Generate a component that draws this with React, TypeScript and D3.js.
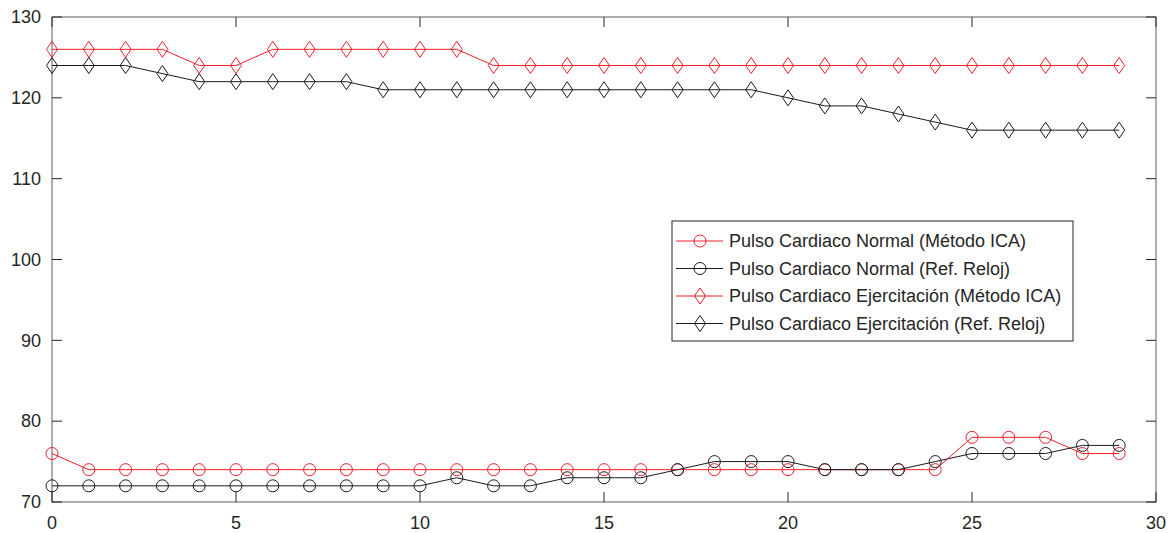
import React, { useEffect, useRef } from 'react'
import * as d3 from 'd3'

const xs = d3.range(0, 30)

const normalIca = [76, 74, 74, 74, 74, 74, 74, 74, 74, 74, 74, 74, 74, 74, 74, 74, 74, 74, 74, 74, 74, 74, 74, 74, 74, 78, 78, 78, 76, 76]
const normalReloj = [72, 72, 72, 72, 72, 72, 72, 72, 72, 72, 72, 73, 72, 72, 73, 73, 73, 74, 75, 75, 75, 74, 74, 74, 75, 76, 76, 76, 77, 77]
const ejercIca = [126, 126, 126, 126, 124, 124, 126, 126, 126, 126, 126, 126, 124, 124, 124, 124, 124, 124, 124, 124, 124, 124, 124, 124, 124, 124, 124, 124, 124, 124]
const ejercReloj = [124, 124, 124, 123, 122, 122, 122, 122, 122, 121, 121, 121, 121, 121, 121, 121, 121, 121, 121, 121, 120, 119, 119, 118, 117, 116, 116, 116, 116, 116]

const xTicks = [0, 5, 10, 15, 20, 25, 30]
const yTicks = [70, 80, 90, 100, 110, 120, 130]

const seriesNames = [
  'Pulso Cardiaco Normal (Método ICA)',
  'Pulso Cardiaco Normal (Ref. Reloj)',
  'Pulso Cardiaco Ejercitación (Método ICA)',
  'Pulso Cardiaco Ejercitación (Ref. Reloj)',
]

const RED = '#f0202a'
const BLACK = '#1a1a1a'
const AXIS = '#262626'
const FONT = 'Liberation Sans, Arial, sans-serif'

function drawMarker(g, kind, color, cx, cy) {
  if (kind === 'circle') {
    g.append('circle')
      .attr('cx', cx).attr('cy', cy).attr('r', 6)
      .attr('fill', 'none').attr('stroke', color).attr('stroke-width', 1)
  } else {
    g.append('path')
      .attr('d', `M${cx},${cy - 8}L${cx + 5.5},${cy}L${cx},${cy + 8}L${cx - 5.5},${cy}Z`)
      .attr('fill', 'none').attr('stroke', color).attr('stroke-width', 1)
  }
}

export default function App() {
  const ref = useRef(null)

  useEffect(() => {
    const svg = d3.select(ref.current)
    svg.selectAll('*').remove()

    const margin = { top: 17, right: 16, bottom: 31, left: 52 }
    const width = 1172 - margin.left - margin.right
    const height = 533 - margin.top - margin.bottom

    const x = d3.scaleLinear().domain([0, 30]).range([0, width])
    const y = d3.scaleLinear().domain([70, 130]).range([height, 0])

    const g = svg.append('g').attr('transform', `translate(${margin.left},${margin.top})`)

    // box with inward ticks on every side
    g.append('rect')
      .attr('width', width).attr('height', height)
      .attr('fill', 'none').attr('stroke', AXIS).attr('stroke-width', 1).attr('opacity', 0.75)

    const tickLen = 10
    xTicks.forEach(t => {
      g.append('line').attr('x1', x(t)).attr('x2', x(t)).attr('y1', height).attr('y2', height - tickLen)
        .attr('stroke', AXIS)
      g.append('line').attr('x1', x(t)).attr('x2', x(t)).attr('y1', 0).attr('y2', tickLen)
        .attr('stroke', AXIS)
      g.append('text')
        .attr('x', x(t)).attr('y', height + 27)
        .attr('text-anchor', 'middle')
        .attr('fill', AXIS)
        .style('font-family', FONT)
        .style('font-size', '18px')
        .text(t)
    })
    yTicks.forEach(t => {
      g.append('line').attr('x1', 0).attr('x2', tickLen).attr('y1', y(t)).attr('y2', y(t))
        .attr('stroke', AXIS)
      g.append('line').attr('x1', width).attr('x2', width - tickLen).attr('y1', y(t)).attr('y2', y(t))
        .attr('stroke', AXIS)
      g.append('text')
        .attr('x', -11).attr('y', y(t)).attr('dy', '0.35em')
        .attr('text-anchor', 'end')
        .attr('fill', AXIS)
        .style('font-family', FONT)
        .style('font-size', '18px')
        .text(t)
    })

    const series = [
      { values: normalIca, color: RED, kind: 'circle' },
      { values: normalReloj, color: BLACK, kind: 'circle' },
      { values: ejercIca, color: RED, kind: 'diamond' },
      { values: ejercReloj, color: BLACK, kind: 'diamond' },
    ]

    const line = d3.line().x(d => x(d[0])).y(d => y(d[1]))

    series.forEach(s => {
      const pts = xs.map((xv, i) => [xv, s.values[i]])
      g.append('path')
        .attr('d', line(pts))
        .attr('fill', 'none')
        .attr('stroke', s.color)
        .attr('stroke-width', 1)
      const mg = g.append('g')
      pts.forEach(p => drawMarker(mg, s.kind, s.color, x(p[0]), y(p[1])))
    })

    // legend
    const lg = svg.append('g').attr('transform', 'translate(672,221)')
    lg.append('rect')
      .attr('width', 401).attr('height', 120)
      .attr('fill', '#fff').attr('stroke', AXIS).attr('stroke-width', 1)
    series.forEach((s, i) => {
      const cy = 20 + i * 27.5
      lg.append('line').attr('x1', 4).attr('x2', 51).attr('y1', cy).attr('y2', cy)
        .attr('stroke', s.color).attr('stroke-width', 1)
      drawMarker(lg, s.kind, s.color, 28, cy)
      lg.append('text')
        .attr('x', 57).attr('y', cy).attr('dy', '0.35em')
        .attr('fill', AXIS)
        .style('font-family', FONT)
        .style('font-size', '18px')
        .text(seriesNames[i])
    })
  }, [])

  return (
    <svg
      ref={ref}
      width={1172}
      height={533}
      style={{ position: 'absolute', left: 0, top: 0, background: '#fff' }}
    />
  )
}
